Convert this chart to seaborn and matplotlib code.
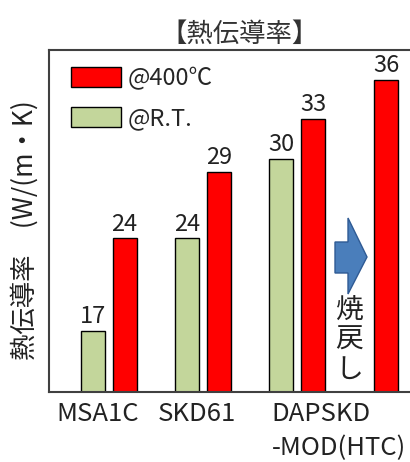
import matplotlib
matplotlib.use("Agg")
import matplotlib.pyplot as plt
import seaborn as sns
import pandas as pd
from matplotlib.patches import Polygon

# データ（熱伝導率 W/(m・K)）
materials = ["MSA1C", "SKD61", "DAPSKD"]
tick_labels = ["MSA1C", "SKD61", "DAPSKD\n-MOD(HTC)"]
conditions = ["@R.T.", "@400℃"]
rt_values = [17, 24, 30]
hot_values = [24, 29, 33]
tempered_hot_value = 36  # DAPSKD-MOD(HTC) 焼戻し後 @400℃

# レイアウト
GROUP_X = [0, 2.95, 5.9]
PAIR_OFFSET = 0.5
TEMPER_SHIFT = 2.28
TICK_X = [-0.35, 2.75, 7.2]
COLORS = {"@R.T.": "#C3D69B", "@400℃": "#FF0000"}
FS = 17
W, H = 410, 462
AX_L, AX_R, AX_T, AX_B = 49, 425, 50.5, 391.7  # px


def build_table():
    rows = []
    for gx, rt, hot in zip(GROUP_X, rt_values, hot_values):
        rows.append({"pos": gx - PAIR_OFFSET, "value": rt, "cond": "@R.T."})
        rows.append({"pos": gx + PAIR_OFFSET, "value": hot, "cond": "@400℃"})
    rows.append({"pos": GROUP_X[-1] + PAIR_OFFSET + TEMPER_SHIFT,
                 "value": tempered_hot_value, "cond": "@400℃"})
    return pd.DataFrame(rows)


def to_ax(px, py):
    return ((px - AX_L) / (AX_R - AX_L), (AX_B - py) / (AX_B - AX_T))


def main():
    sns.set_theme(style="white")
    plt.rcParams['font.family'] = ['Noto Sans CJK JP', 'DejaVu Sans']

    df = build_table()

    fig = plt.figure(figsize=((W + 0.01) / 100, (H + 0.01) / 100), dpi=100)
    ax = fig.add_axes([AX_L / W, 1 - AX_B / H,
                       (AX_R - AX_L) / W, (AX_B - AX_T) / H])

    sns.barplot(data=df, x="pos", y="value", hue="cond", hue_order=conditions,
                palette=COLORS, saturation=1, native_scale=True, dodge=False,
                width=0.75, errorbar=None, edgecolor="black", linewidth=1, ax=ax)

    for cont in ax.containers:
        ax.bar_label(cont, fmt="%d", padding=2, fontsize=FS, color="#222222")

    # x: px = 108.5 + 32 * u
    ax.set_xlim((AX_L - 108.5) / 32, (AX_R - 108.5) / 32)
    ax.set_ylim(12.4, 38.2)
    ax.set_yticks([])
    ax.set_xticks(TICK_X)
    ax.set_xticklabels(tick_labels, fontsize=18.5, color="#222222",
                       multialignment="left", linespacing=1.4)
    ax.tick_params(axis="x", length=0, pad=7)
    ax.set_xlabel("")

    for side in ["top", "left", "bottom"]:
        ax.spines[side].set_color("#404040")
        ax.spines[side].set_linewidth(1.5)
    ax.spines["right"].set_visible(False)

    ax.set_ylabel("熱伝導率　(W/(m・K)", fontsize=19, color="#222222", va="center")
    ax.yaxis.set_label_coords(*to_ax(25, 230))

    ax.set_title("【熱伝導率】", fontsize=19, color="#333333",
                 x=to_ax(240, 0)[0], pad=6)

    handles, labels = ax.get_legend_handles_labels()
    ax.legend(handles[::-1], labels[::-1], loc="upper left",
              bbox_to_anchor=to_ax(71, 67),
              frameon=False, fontsize=FS, handlelength=2.1, handleheight=0.9,
              handletextpad=0.3, labelspacing=0.72, borderaxespad=0, borderpad=0)

    # 焼戻し 矢印
    pts = [to_ax(*p) for p in [(335, 242), (348, 242), (348, 218), (367, 257),
                                (348, 294), (348, 273), (335, 273)]]
    ax.add_patch(Polygon(pts, closed=True, transform=ax.transAxes,
                         facecolor="#4A7EBB", edgecolor="#2E5A94", linewidth=1,
                         zorder=5))
    ax.text(*to_ax(349, 340), "焼\n戻\nし", transform=ax.transAxes,
            ha="center", va="center", fontsize=20, linespacing=1.0,
            color="#222222")

    fig.savefig("out.png", dpi=100)


if __name__ == "__main__":
    main()
